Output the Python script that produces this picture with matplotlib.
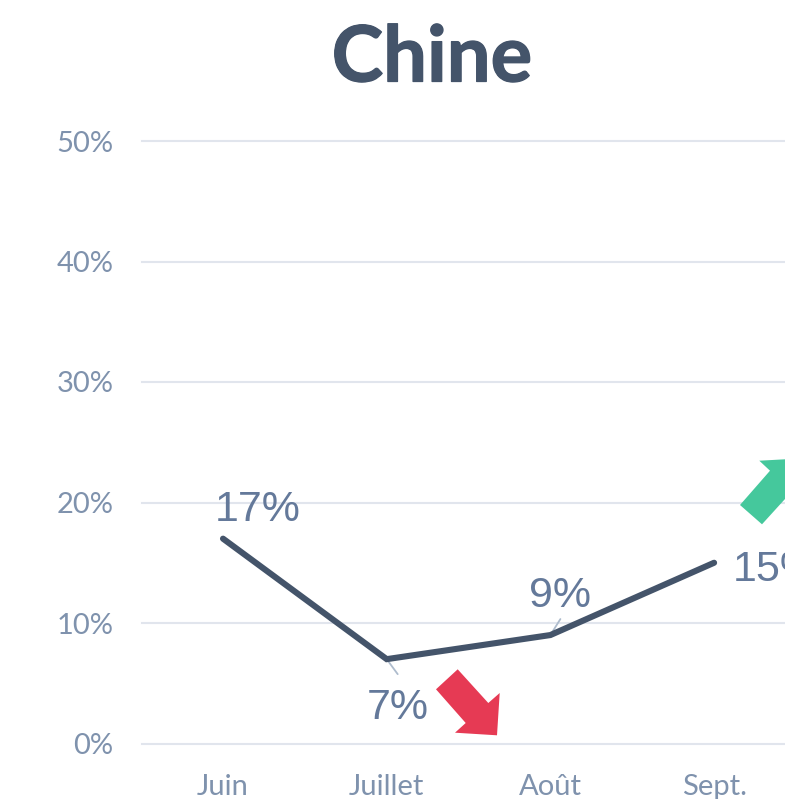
import matplotlib
matplotlib.use("Agg")
import matplotlib.pyplot as plt
from matplotlib.patches import Polygon
import matplotlib.patheffects as pe

months = ["Juin", "Juillet", "Août", "Sept."]
values = [17, 7, 9, 15]
labels = ["17%", "7%", "9%", "15%"]
yticks = [0, 10, 20, 30, 40, 50]
ytick_labels = ["0%", "10%", "20%", "30%", "40%", "50%"]
title = "Chine"

W, H = 785, 799
px = 0.72  # points per pixel at dpi 100
SLATE = "#44546A"
LABEL = "#64799A"
TICK = "#7F92AD"
GRID = "#E1E5ED"
LEADER = "#AEBCCD"

fig = plt.figure(figsize=(W / 100, H / 100), dpi=100, facecolor="white")
left, right, top, bottom = 142, 785, 141, 743.5
ax = fig.add_axes([left / W, 1 - bottom / H, (right - left) / W, (bottom - top) / H])
step = 163.7
ax.set_xlim(-(223 - left) / step, (right - 223) / step)
ax.set_ylim(0, 50)
for s in ax.spines.values():
    s.set_visible(False)
ax.patch.set_alpha(0)
ax.set_xticks(range(len(months)), months)
ax.set_yticks(yticks, ytick_labels)
ax.tick_params(axis="both", length=0, labelcolor=TICK, labelsize=21)
ax.tick_params(axis="x", pad=22)
ax.tick_params(axis="y", pad=20.5)
for t in ax.get_xticklabels() + ax.get_yticklabels():
    t.set_fontfamily("Lato")
ax.grid(axis="y", color=GRID, lw=1.5)
ax.set_axisbelow(True)
for line in ax.yaxis.get_gridlines():
    line.set_clip_on(False)

ax.plot(range(len(values)), values, color=SLATE, lw=4.4, solid_capstyle="round",
        solid_joinstyle="miter", zorder=3)

# leader lines and data labels: offsets in pixels from each point
offsets = [(35, 18, "center", "bottom"), (11, -60, "center", "bottom"),
           (10, 28, "center", "bottom"), (19, -18, "left", "bottom")]
leaders = {1: (11, -15), 2: (10, 16)}
for i, (v, lab) in enumerate(zip(values, labels)):
    dx, dy, ha, va = offsets[i]
    ax.annotate(lab, (i, v), xytext=(dx * px, dy * px), textcoords="offset points",
                ha=ha, va="baseline", fontsize=31, color=LABEL,
                family="Liberation Sans", annotation_clip=False, zorder=4)
    if i in leaders:
        lx, ly = leaders[i]
        ax.annotate("", (i, v), xytext=(lx * px, ly * px), textcoords="offset points",
                    arrowprops=dict(arrowstyle="-", color=LEADER, lw=1.3, shrinkA=0, shrinkB=0),
                    zorder=2)

ttl = fig.text(432 / W, 1 - 81.5 / H, title, ha="center", va="baseline", fontsize=56,
               fontweight="bold", family="Lato", color=SLATE)
ttl.set_path_effects([pe.withStroke(linewidth=0.9, foreground=SLATE)])

# decorative trend arrows, in figure pixels
def to_fig(pts):
    return [(x / W, 1 - y / H) for x, y in pts]

red = [(457.7, 669.3), (436, 689.3), (465.7, 723), (455, 732.7), (497, 735.3), (499.7, 693), (488.3, 703)]
green = [(740, 505), (762, 524.3), (785, 499), (785, 459.3), (759.3, 460.7), (770, 470.7)]
fig.add_artist(Polygon(to_fig(red), closed=True, transform=fig.transFigure, fc="#E63A54", ec="none"))
fig.add_artist(Polygon(to_fig(green), closed=True, transform=fig.transFigure, fc="#45C89C", ec="none"))

fig.savefig("out.png", dpi=100)
